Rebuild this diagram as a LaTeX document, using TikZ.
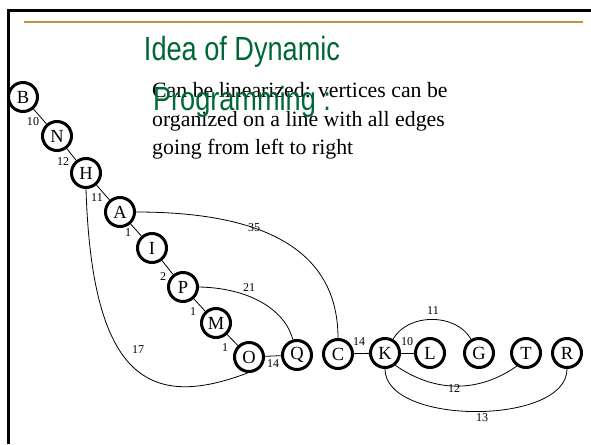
\documentclass[tikz,border=0pt]{standalone}
\usepackage{fontspec}
\setmainfont{Liberation Serif}
\newfontfamily\titlefont[FakeStretch=0.81]{Liberation Sans}
\definecolor{titlegreen}{RGB}{0,104,55}
\definecolor{rulegold}{RGB}{196,150,60}

\begin{document}
\begin{tikzpicture}[x=1pt, y=-1pt,
    vtx/.style={circle, draw, line width=3pt, minimum size=29pt, inner sep=0pt, font=\fontsize{18.5}{18.5}\selectfont},
    wt/.style={inner sep=0pt, font=\fontsize{12}{12}\selectfont},
    arc/.style={line width=0.8pt}]
	\useasboundingbox (0,0) rectangle (591,444);
	% Cornice della diapositiva
	\draw[line width=3pt] (8.5,444) -- (8.5,10.5) -- (591,10.5);
	\draw[rulegold, line width=1.5pt] (24,21.8) -- (583,21.8);

	% Testo (ancorato alla base dell'ultima riga)
	\node (body) [anchor=base west, align=left, inner sep=0pt, font=\fontsize{21.8}{28.5}\selectfont] at (152,154.5) {Can be linearized: vertices can be\\organized on a line with all edges\\going from left to right};
	\node (title) [anchor=base, align=center, inner sep=0pt, text=titlegreen, font=\titlefont\fontsize{33.5}{50}\selectfont] at (242,110) {Idea of Dynamic\\Programming :};

	% Nodi
	\node[vtx] (nB) at (23,97) {B};
	\node[vtx] (nN) at (57,136) {N};
	\node[vtx] (nH) at (86,173) {H};
	\node[vtx] (nA) at (120,212) {A};
	\node[vtx] (nI) at (152,248) {I};
	\node[vtx] (nP) at (183,287) {P};
	\node[vtx] (nM) at (216,323) {M};
	\node[vtx] (nO) at (249,357) {O};
	\node[vtx] (nQ) at (297,355) {Q};
	\node[vtx] (nC) at (338,354) {C};
	\node[vtx] (nK) at (385,353) {K};
	\node[vtx] (nL) at (430,353) {L};
	\node[vtx] (nG) at (479,353) {G};
	\node[vtx] (nT) at (526,353) {T};
	\node[vtx] (nR) at (567,353) {R};

	% Archi
	\draw[arc] (nB) -- (nN);
	\draw[arc] (nN) -- (nH);
	\draw[arc] (nH) -- (nA);
	\draw[arc] (nA) -- (nI);
	\draw[arc] (nI) -- (nP);
	\draw[arc] (nP) -- (nM);
	\draw[arc] (nM) -- (nO);
	\draw[arc] (nO) -- (nQ);
	\draw[arc] (nC) -- (nK);
	\draw[arc] (nK) -- (nL);
	\draw[arc] (nA.east) to[out=0, in=90, looseness=1.1] (nC.north);
	\draw[arc] (nP.east) .. controls (250,288) and (285,310) .. (nQ.105);
	\draw[arc] (nH.south) .. controls (92,380) and (150,410) .. (nO.-95);
	\draw[arc] (nK.60) to[out=60, in=120] (nG.120);
	\draw[arc] (nK.-50) to[out=-35, in=-145] (nT.-125);
	\draw[arc] (nK.south) to[out=-90, in=-90, looseness=0.8] (nR.south);

	% Pesi
	\node[wt] (wBN) at (33,122) {10};
	\node[wt] (wNH) at (63,162) {12};
	\node[wt] (wHA) at (97,198) {11};
	\node[wt] (wAI) at (128,233) {1};
	\node[wt] (wIP) at (163,277) {2};
	\node[wt] (wPM) at (193,312) {1};
	\node[wt] (wMO) at (225,348) {1};
	\node[wt] (wOQ) at (273,364) {14};
	\node[wt] (wHO) at (138,350) {17};
	\node[wt] (wAC) at (254,228) {35};
	\node[wt] (wPQ) at (249,288) {21};
	\node[wt] (wCK) at (359,342) {14};
	\node[wt] (wKL) at (407,342) {10};
	\node[wt] (wKG) at (433,311) {11};
	\node[wt] (wKT) at (454,389) {12};
	\node[wt] (wKR) at (482,418) {13};
\end{tikzpicture}
\end{document}
